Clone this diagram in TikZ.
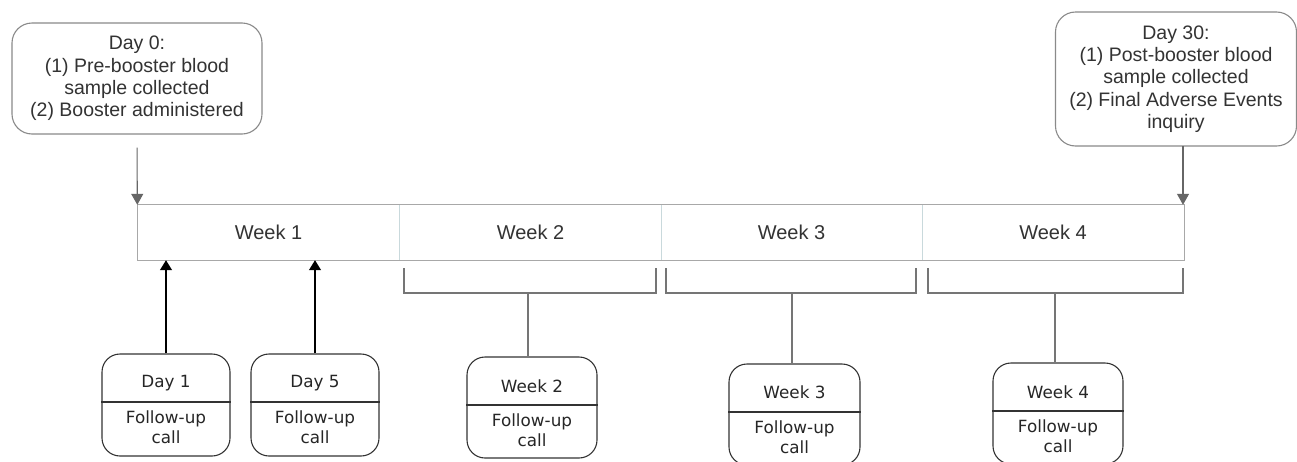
\documentclass[tikz,border=0pt]{standalone}
\usepackage{fontspec}
\setmainfont{Liberation Sans}
\newfontfamily\verd{DejaVu Sans}
\usetikzlibrary{arrows.meta}
\definecolor{txtgray}{HTML}{333333}
\definecolor{boxgray}{HTML}{8A8A8A}
\definecolor{linegray}{HTML}{A8A8A8}
\definecolor{divgray}{HTML}{C9D9DC}
\definecolor{arrgray}{HTML}{666666}
\begin{document}
\begin{tikzpicture}[x=1pt,y=-1pt,
  topbox/.style={draw=boxgray,line width=1.1pt,rounded corners=20pt,align=center,text=txtgray,
     font=\fontsize{19.5}{22.3}\selectfont,inner sep=0pt},
  cell/.style={minimum width=262pt,minimum height=55pt,inner sep=0pt,text=txtgray,font=\fontsize{20}{22}\selectfont},
  callbox/.style={draw=txtgray,line width=1.1pt,rounded corners=18pt,inner sep=0pt},
  calltxt/.style={align=center,text=black!85,font=\verd\fontsize{16.8}{20}\selectfont,inner sep=0pt},
  grayarrow/.style={draw=arrgray,line width=1.1pt,-{Triangle[length=11pt,width=12pt]}},
  blackarrow/.style={draw=black,line width=1.2pt,-{Triangle[length=10pt,width=12pt]}},
  bracket/.style={draw=arrgray!90,line width=1.1pt},
]
\useasboundingbox (0,0) rectangle (1297,461);
\fill[white] (0,0) rectangle (1297,461);
\clip (0,0) rectangle (1297,461);

% top boxes
\node[topbox,minimum width=250pt,minimum height=111pt] (d0) at (137,78.5)
  {Day 0:\\(1) Pre-booster blood\\sample collected\\(2) Booster administered};
\node[topbox,minimum width=241pt,minimum height=134pt] (d30) at (1176,79)
  {Day 30:\\(1) Post-booster blood\\sample collected\\(2) Final Adverse Events\\inquiry};

% timeline cells
\node[cell] (w1) at (268.5,232.5) {Week 1};
\node[cell] (w2) at (530.5,232.5) {Week 2};
\node[cell] (w3) at (791.5,232.5) {Week 3};
\node[cell] (w4) at (1053,232.5) {Week 4};
\draw[divgray,line width=1pt] (w1.north east) -- (w1.south east);
\draw[divgray,line width=1pt] (w2.north east) -- (w2.south east);
\draw[divgray,line width=1pt] (w3.north east) -- (w3.south east);
\draw[linegray,line width=1.2pt] (w1.north west) -- (w4.north east) -- (w4.south east) -- (w1.south west) -- cycle;

% top arrows
\coordinate (a30) at (1183,146);
\draw[grayarrow,shorten <=13pt] (d0.south) -- (w1.north west);
\draw[grayarrow] (a30) -- (a30 |- w4.north);

% brackets
\coordinate (b2l) at (404,268); \coordinate (b2r) at (656,268);
\coordinate (b3l) at (666,268); \coordinate (b3r) at (916,268);
\coordinate (b4l) at (928,268); \coordinate (b4r) at (1183,268);
\draw[bracket] (b2l) -- ++(0,25) coordinate (b2bl) -- (b2r |- b2bl) -- (b2r);
\draw[bracket] (b3l) -- ++(0,25) coordinate (b3bl) -- (b3r |- b3bl) -- (b3r);
\draw[bracket] (b4l) -- ++(0,25) coordinate (b4bl) -- (b4r |- b4bl) -- (b4r);
\coordinate (s2) at (528,293);
\coordinate (s3) at (792,293);
\coordinate (s4) at (1055,293);

% call boxes
\node[callbox,minimum width=128pt,minimum height=102pt] (c1) at (166,405) {};
\node[callbox,minimum width=128pt,minimum height=102pt] (c5) at (315,405) {};
\node[callbox,minimum width=130pt,minimum height=101pt] (cw2) at (532,407.5) {};
\node[callbox,minimum width=131pt,minimum height=101pt] (cw3) at (794.5,414.5) {};
\node[callbox,minimum width=130pt,minimum height=101pt] (cw4) at (1058,413.5) {};

\draw[txtgray,line width=1.1pt] (c1.west |- 0,402) -- (c1.east |- 0,402);
\draw[txtgray,line width=1.1pt] (c5.west |- 0,402) -- (c5.east |- 0,402);
\draw[txtgray,line width=1.1pt] (cw2.west |- 0,405) -- (cw2.east |- 0,405);
\draw[txtgray,line width=1.1pt] (cw3.west |- 0,412) -- (cw3.east |- 0,412);
\draw[txtgray,line width=1.1pt] (cw4.west |- 0,411) -- (cw4.east |- 0,411);

\node[calltxt] (t1a) at (166,383) {Day 1};
\node[calltxt] (t1b) at (166,427) {Follow-up\\call};
\node[calltxt] (t5a) at (315,383) {Day 5};
\node[calltxt] (t5b) at (315,427) {Follow-up\\call};
\node[calltxt] (t2a) at (532,386) {Week 2};
\node[calltxt] (t2b) at (532,430) {Follow-up\\call};
\node[calltxt] (t3a) at (794.5,392) {Week 3};
\node[calltxt] (t3b) at (794.5,437) {Follow-up\\call};
\node[calltxt] (t4a) at (1058,392) {Week 4};
\node[calltxt] (t4b) at (1058,436) {Follow-up\\call};

% connectors from calls
\draw[blackarrow] (c1.north) -- (c1.north |- w1.south);
\draw[blackarrow] (c5.north) -- (c5.north |- w1.south);
\draw[bracket] (s2) -- (s2 |- cw2.north);
\draw[bracket] (s3) -- (s3 |- cw3.north);
\draw[bracket] (s4) -- (s4 |- cw4.north);
\end{tikzpicture}
\end{document}
